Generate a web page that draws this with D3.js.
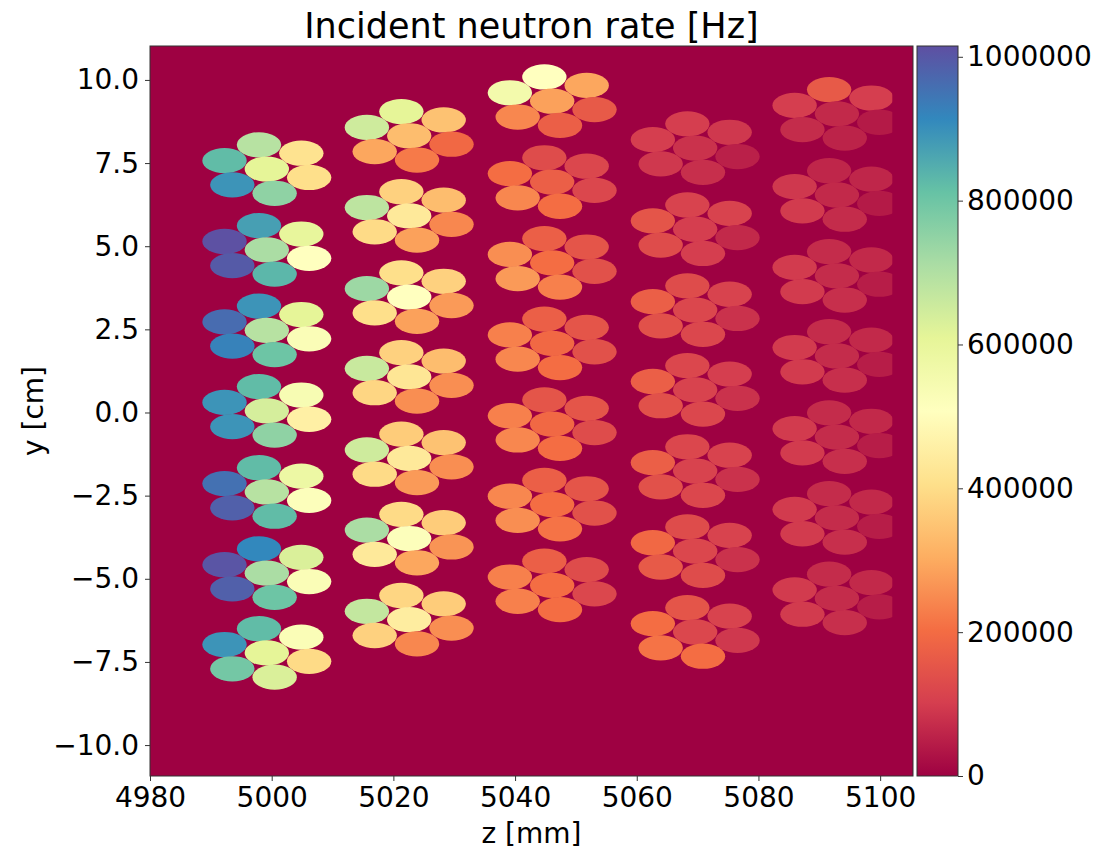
<!DOCTYPE html>
<html>
<head>
<meta charset="utf-8">
<script src="https://cdn.jsdelivr.net/npm/d3@7"></script>
<style>
  body { margin: 0; background: #fff; }
  text { font-family: "DejaVu Sans", sans-serif; fill: #000; }
</style>
</head>
<body>
<svg id="chart" width="1100" height="852"></svg>
<script>
// Axis ticks
const zTicks = [4980, 5000, 5020, 5040, 5060, 5080, 5100];
const yTicks = [-10, -7.5, -5, -2.5, 0, 2.5, 5, 7.5, 10];
const rateTicks = [0, 200000, 400000, 600000, 800000, 1000000];

// Colour range of the rate scale (Hz)
const rateMax = 1015000;
const spectralStops = ["#9e0142", "#d53e4f", "#f46d43", "#fdae61", "#fee08b", "#ffffbf",
                       "#e6f598", "#abdda4", "#66c2a5", "#3288bd", "#5e4fa2"];

// Detector geometry: module columns along z (mm), cluster centres along y (cm)
const columnZ = [4999.2, 5022.6, 5046.1, 5069.6, 5092.9];
const clusterYCol1 = [7.32, 4.89, 2.47, 0.05, -2.39, -4.83, -7.23];
const clusterYCol2 = [8.32, 5.91, 3.47, 1.07, -1.38, -3.79, -6.23];
const clusterYCol3 = [9.36, 6.93, 4.50, 2.08, -0.35, -2.77, -5.20];
const clusterYCol4 = [7.95, 5.51, 3.08, 0.68, -1.76, -4.17, -6.60];
const clusterYCol5 = [8.98, 6.54, 4.11, 1.70, -0.74, -3.17, -5.59];
// Seven tubes per cluster: hexagonal ring around a centre tube
// order: top, top-right, left, centre, right, bottom-left, bottom
const tubeAngles = [100, 40, 160, null, -20, 220, 280];
const ringRadius = 7.4;      // mm
const tubeHalfWidth = 3.65;  // mm, along z
const tubeHalfHeight = 0.38; // cm, along y (binned footprint)
const binnedZMax = 5102;     // end of the binned z range (mm)

// Incident neutron rate per tube (kHz), same tube order as above
const rateCol1 = [
  [690, 416, 822, 609, 406, 893, 751],
  [873, 599, 1012, 711, 508, 995, 832],
  [893, 609, 964, 690, 528, 924, 802],
  [822, 538, 893, 639, 457, 893, 751],
  [822, 579, 954, 690, 518, 985, 822],
  [914, 629, 1005, 711, 528, 985, 802],
  [822, 528, 893, 609, 396, 792, 629]
];
const rateCol2 = [
  [609, 345, 650, 335, 193, 294, 223],
  [376, 335, 680, 436, 244, 396, 284],
  [406, 376, 731, 508, 274, 406, 284],
  [376, 335, 660, 426, 254, 386, 254],
  [365, 345, 650, 436, 254, 396, 274],
  [396, 365, 711, 518, 264, 436, 294],
  [386, 365, 670, 447, 254, 376, 244]
];
const rateCol3 = [
  [508, 294, 558, 284, 162, 244, 173],
  [132, 122, 203, 173, 122, 244, 203],
  [173, 152, 254, 203, 142, 274, 233],
  [173, 152, 233, 193, 142, 244, 203],
  [152, 152, 233, 193, 132, 244, 203],
  [173, 152, 244, 203, 142, 254, 213],
  [173, 132, 233, 203, 122, 233, 203]
];
const rateCol4 = [
  [102, 91, 102, 81, 51, 91, 76],
  [112, 112, 152, 102, 66, 132, 102],
  [132, 112, 172, 122, 81, 142, 122],
  [122, 102, 172, 112, 81, 142, 122],
  [122, 112, 172, 112, 81, 142, 122],
  [132, 112, 193, 122, 81, 162, 132],
  [152, 112, 203, 122, 91, 213, 203]
];
const rateCol5 = [
  [162, 102, 102, 66, 41, 71, 56],
  [61, 61, 91, 66, 41, 96, 71],
  [71, 66, 96, 71, 46, 96, 76],
  [71, 66, 96, 71, 46, 96, 76],
  [71, 66, 96, 71, 46, 96, 76],
  [71, 66, 96, 71, 46, 96, 76],
  [71, 66, 96, 71, 46, 96, 76]
];

const clusterY = [clusterYCol1, clusterYCol2, clusterYCol3, clusterYCol4, clusterYCol5];
const rates = [rateCol1, rateCol2, rateCol3, rateCol4, rateCol5];

// Flatten into one record per tube
const tubes = [];
columnZ.forEach((zc, ci) => {
  clusterY[ci].forEach((yc, k) => {
    tubeAngles.forEach((a, t) => {
      const dz = a === null ? 0 : ringRadius * Math.cos(a * Math.PI / 180);
      const dy = a === null ? 0 : ringRadius * Math.sin(a * Math.PI / 180) / 10;
      tubes.push({ z: zc + dz, y: yc + dy, rate: rates[ci][k][t] * 1000 });
    });
  });
});

// Layout
const plot = { left: 150, top: 46, right: 913, bottom: 776 };
const cbar = { left: 917, right: 958 };

const svg = d3.select("#chart");
const x = d3.scaleLinear().domain([4980, 5105.4]).range([plot.left, plot.right]);
const y = d3.scaleLinear().domain([-10.93, 11.02]).range([plot.bottom, plot.top]);

const color = d3.scaleLinear()
  .domain(spectralStops.map((_, i) => i / (spectralStops.length - 1) * rateMax))
  .range(spectralStops)
  .interpolate(d3.interpolateRgb)
  .clamp(true);

// Clip paths: plot area and binned range
const defs = svg.append("defs");
defs.append("clipPath").attr("id", "plotClip")
  .append("rect")
  .attr("x", plot.left).attr("y", plot.top)
  .attr("width", plot.right - plot.left).attr("height", plot.bottom - plot.top);
defs.append("clipPath").attr("id", "binClip")
  .append("rect")
  .attr("x", plot.left).attr("y", plot.top)
  .attr("width", x(binnedZMax) - plot.left).attr("height", plot.bottom - plot.top);

// Background (zero rate)
svg.append("rect")
  .attr("x", plot.left).attr("y", plot.top)
  .attr("width", plot.right - plot.left).attr("height", plot.bottom - plot.top)
  .attr("fill", color(0));

// Tubes
svg.append("g").attr("clip-path", "url(#plotClip)")
  .append("g").attr("clip-path", "url(#binClip)")
  .selectAll("ellipse")
  .data(tubes)
  .join("ellipse")
  .attr("cx", d => x(d.z))
  .attr("cy", d => y(d.y))
  .attr("rx", d => x(d.z + tubeHalfWidth) - x(d.z))
  .attr("ry", d => y(d.y) - y(d.y + tubeHalfHeight))
  .attr("fill", d => color(d.rate));

// Frame
svg.append("rect")
  .attr("x", plot.left).attr("y", plot.top)
  .attr("width", plot.right - plot.left).attr("height", plot.bottom - plot.top)
  .attr("fill", "none").attr("stroke", "#333").attr("stroke-width", 1);

// Axes
const fontSize = 28;
const xAxis = svg.append("g")
  .attr("transform", `translate(0,${plot.bottom})`)
  .call(d3.axisBottom(x).tickValues(zTicks).tickFormat(d3.format("d")).tickSize(5).tickPadding(6));
const yAxis = svg.append("g")
  .attr("transform", `translate(${plot.left},0)`)
  .call(d3.axisLeft(y).tickValues(yTicks).tickFormat(d => d3.format(".1f")(d).replace("-", "\u2212")).tickSize(5).tickPadding(6));
[xAxis, yAxis].forEach(g => {
  g.select(".domain").remove();
  g.selectAll("text").style("font-size", fontSize + "px").attr("fill", "#000");
  g.selectAll("line").attr("stroke", "#333");
});

// Axis labels and title
svg.append("text")
  .attr("x", (plot.left + plot.right) / 2).attr("y", 843)
  .attr("text-anchor", "middle").style("font-size", fontSize + "px")
  .text("z [mm]");
svg.append("text")
  .attr("transform", `translate(43,${(plot.top + plot.bottom) / 2}) rotate(-90)`)
  .attr("text-anchor", "middle").style("font-size", fontSize + "px")
  .text("y [cm]");
svg.append("text")
  .attr("x", (plot.left + plot.right) / 2).attr("y", 38)
  .attr("text-anchor", "middle").style("font-size", "35px")
  .text("Incident neutron rate [Hz]");

// Colour bar
const cbY = d3.scaleLinear().domain([0, rateMax]).range([plot.bottom, plot.top]);
const grad = defs.append("linearGradient").attr("id", "cbGrad")
  .attr("x1", 0).attr("y1", 1).attr("x2", 0).attr("y2", 0);
grad.selectAll("stop")
  .data(spectralStops)
  .join("stop")
  .attr("offset", (_, i) => i / (spectralStops.length - 1))
  .attr("stop-color", d => d);
svg.append("rect")
  .attr("x", cbar.left).attr("y", plot.top)
  .attr("width", cbar.right - cbar.left).attr("height", plot.bottom - plot.top)
  .attr("fill", "url(#cbGrad)").attr("stroke", "#333").attr("stroke-width", 1);
const cbAxis = svg.append("g")
  .attr("transform", `translate(${cbar.right},0)`)
  .call(d3.axisRight(cbY).tickValues(rateTicks).tickFormat(d3.format("d")).tickSize(5).tickPadding(4));
cbAxis.select(".domain").remove();
cbAxis.selectAll("text").style("font-size", fontSize + "px").attr("fill", "#000");
cbAxis.selectAll("line").attr("stroke", "#333");
</script>
</body>
</html>
